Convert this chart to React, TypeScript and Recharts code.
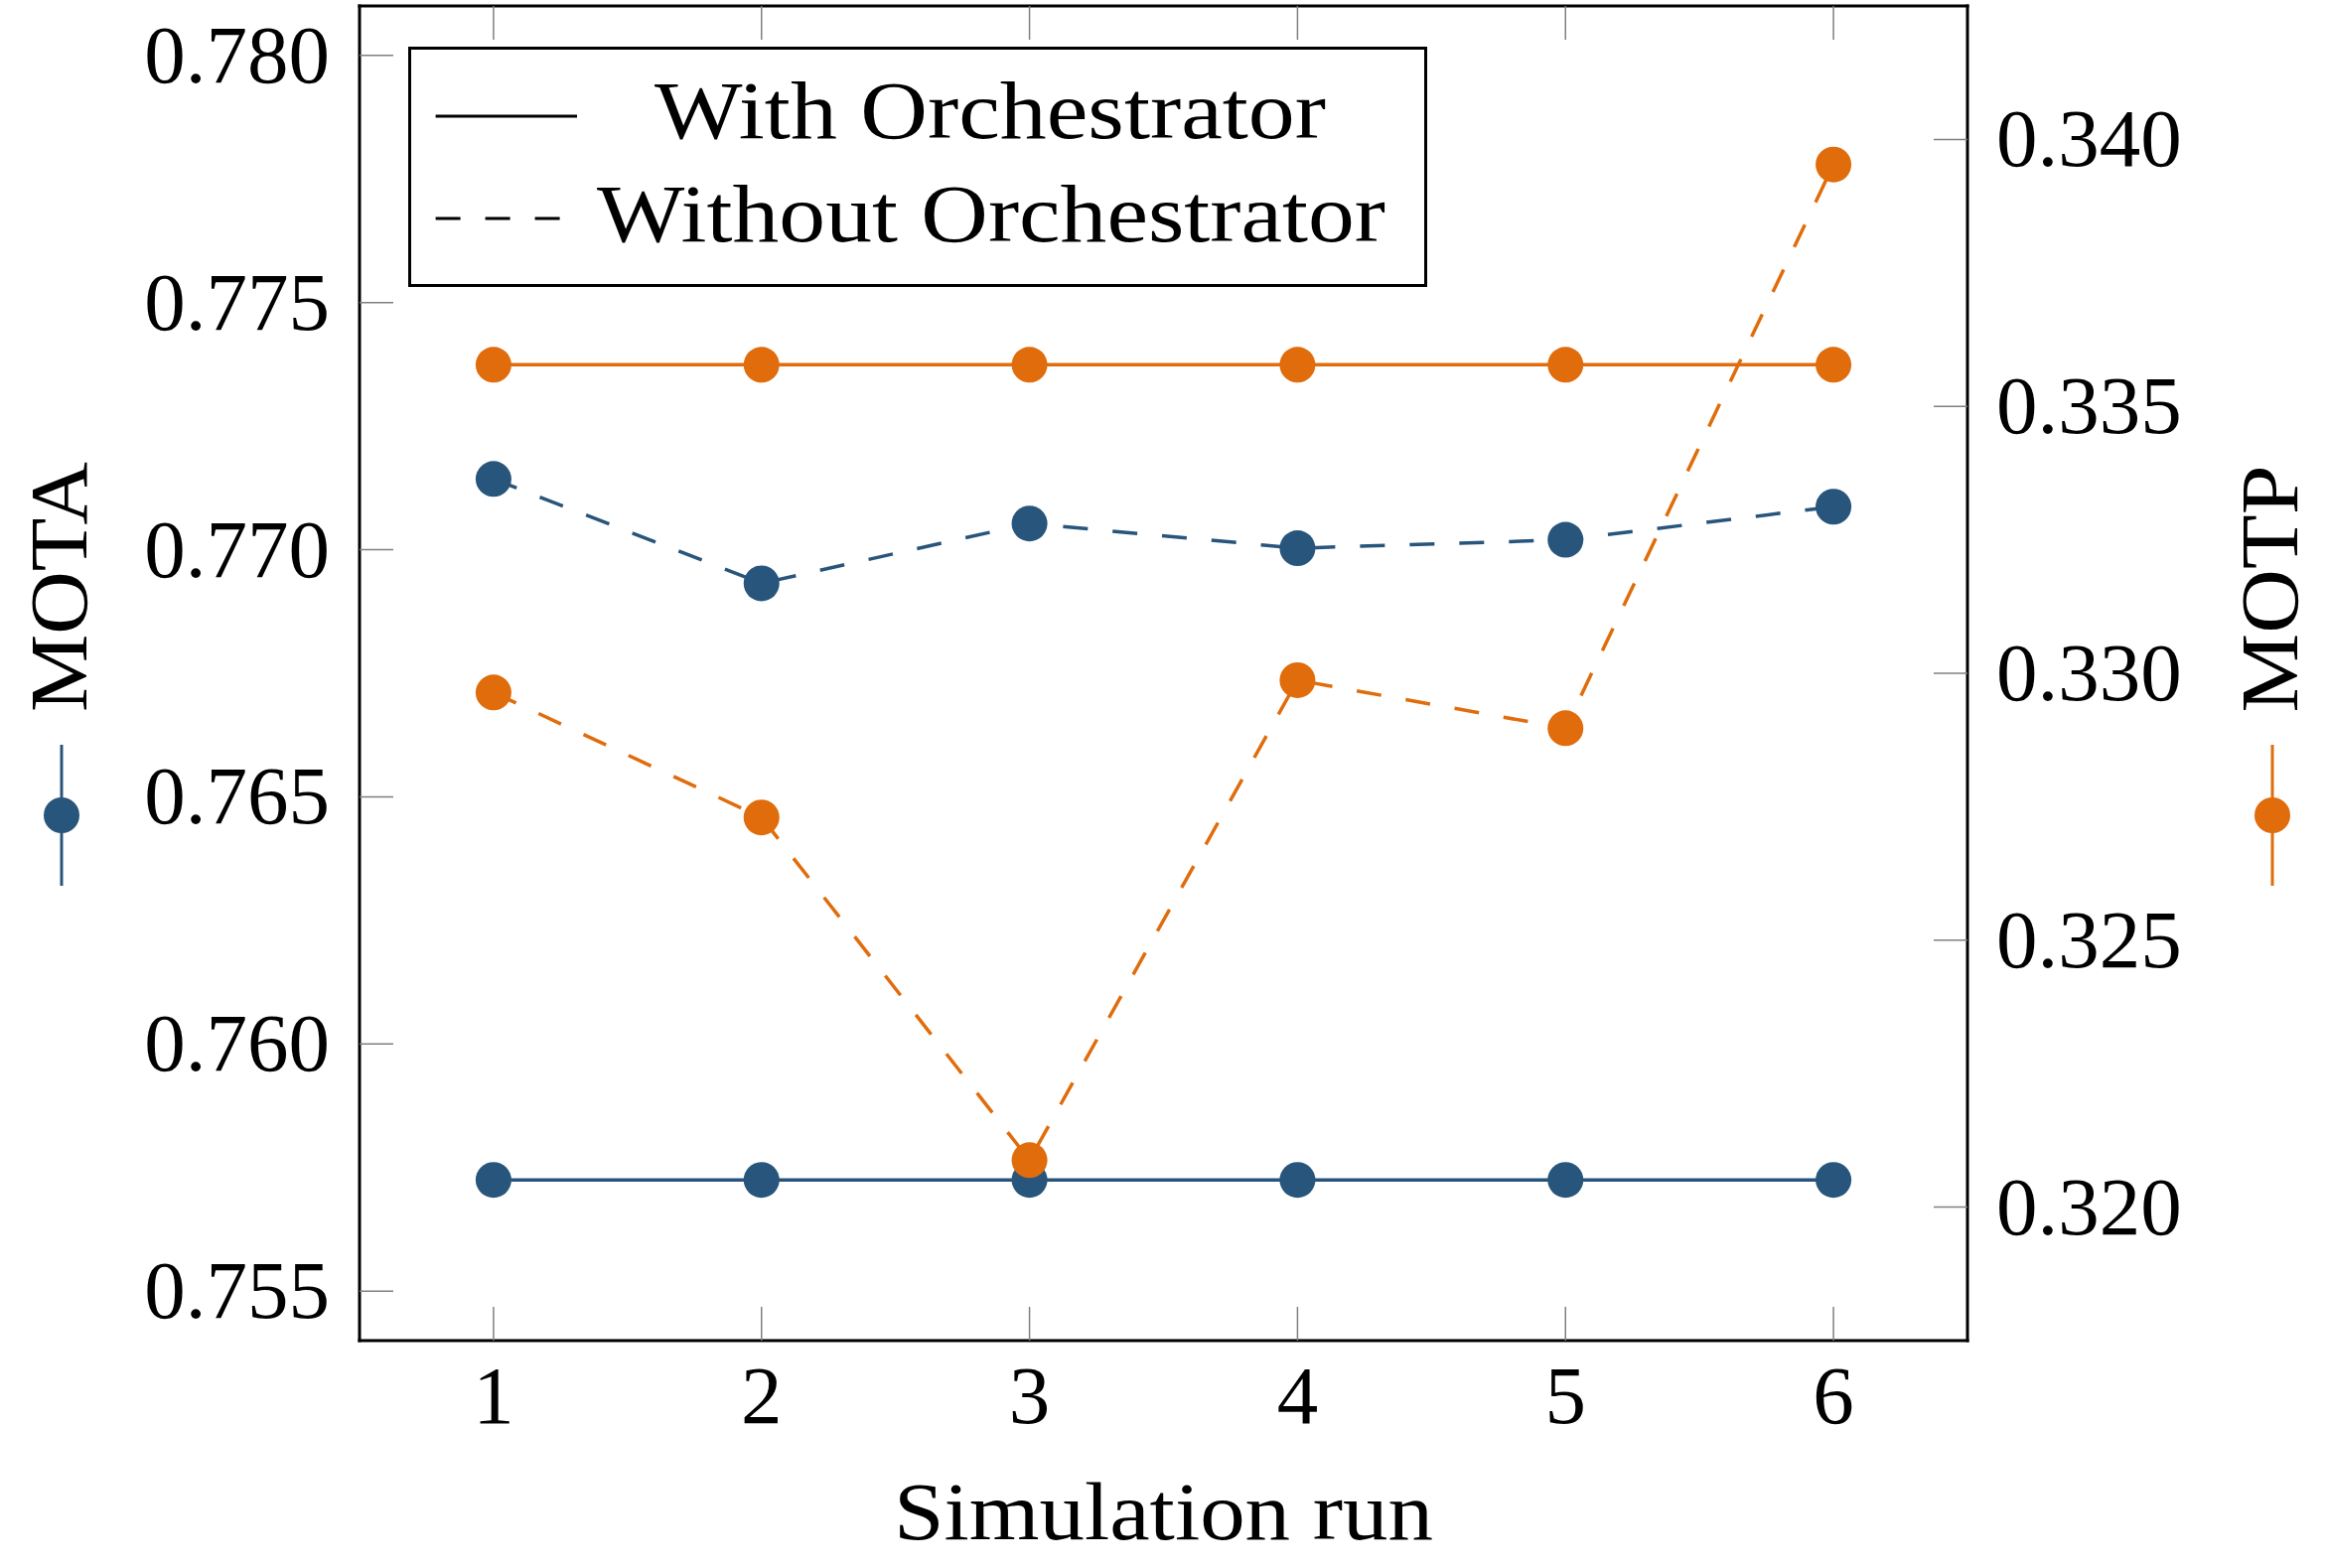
import React from 'react';
import { LineChart, Line, XAxis, YAxis, Legend } from 'recharts';

const runs = [1, 2, 3, 4, 5, 6];
const motaWith = [0.75725, 0.75725, 0.75725, 0.75725, 0.75725, 0.75725];
const motaWithout = [0.77143, 0.76932, 0.77053, 0.77003, 0.7702, 0.77087];
const motpWith = [0.33578, 0.33578, 0.33578, 0.33578, 0.33578, 0.33578];
const motpWithout = [0.32964, 0.3273, 0.32088, 0.32987, 0.32897, 0.33953];

const xTicks = [1, 2, 3, 4, 5, 6];
const motaTicks = [0.755, 0.76, 0.765, 0.77, 0.775, 0.78];
const motpTicks = [0.32, 0.325, 0.33, 0.335, 0.34];

const legendLabels = ['With Orchestrator', 'Without Orchestrator'];

const data = runs.map((r, i) => ({
  run: r,
  motaWith: motaWith[i],
  motaWithout: motaWithout[i],
  motpWith: motpWith[i],
  motpWithout: motpWithout[i],
}));

const BLUE = '#28557B';
const ORANGE = '#E06C0B';
const FONT = '"Liberation Serif", "Times New Roman", serif';
const FS = 83;
const TICK_GRAY = '#808080';
const TICK_LEN = 34;

const LeftTick = (props: any) => {
  const { x, y, payload } = props;
  return (
    <g>
      <line x1={x} y1={y} x2={x + TICK_LEN} y2={y} stroke={TICK_GRAY} strokeWidth={1.5} />
      <text x={x - 30} y={y + 27} textAnchor="end" fontFamily={FONT} fontSize={FS} fill="#000">
        {Number(payload.value).toFixed(3)}
      </text>
    </g>
  );
};

const RightTick = (props: any) => {
  const { x, y, payload } = props;
  return (
    <g>
      <line x1={x} y1={y} x2={x - TICK_LEN} y2={y} stroke={TICK_GRAY} strokeWidth={1.5} />
      <text x={x + 29} y={y + 27} textAnchor="start" fontFamily={FONT} fontSize={FS} fill="#000">
        {Number(payload.value).toFixed(3)}
      </text>
    </g>
  );
};

const BottomTick = (props: any) => {
  const { x, y, payload } = props;
  return (
    <g>
      <line x1={x} y1={y} x2={x} y2={y - TICK_LEN} stroke={TICK_GRAY} strokeWidth={1.5} />
      <text x={x} y={y + 83} textAnchor="middle" fontFamily={FONT} fontSize={FS} fill="#000">
        {payload.value}
      </text>
    </g>
  );
};

const TopTick = (props: any) => {
  const { x, y } = props;
  return <line x1={x} y1={y} x2={x} y2={y + TICK_LEN} stroke={TICK_GRAY} strokeWidth={1.5} />;
};

const LeftLabel = (props: any) => {
  const vb = props.viewBox || { x: 0, y: 6, width: 362, height: 1344 };
  const cy = vb.y + vb.height / 2;
  const tx = vb.x + 87;
  const ty = cy - 87;
  return (
    <g>
      <text
        x={tx}
        y={ty}
        textAnchor="middle"
        transform={`rotate(-90, ${tx}, ${ty})`}
        fontFamily={FONT}
        fontSize={FS}
        fill="#000"
        textLength={252}
        lengthAdjust="spacingAndGlyphs"
      >
        MOTA
      </text>
      <line x1={vb.x + 62} y1={cy + 72} x2={vb.x + 62} y2={cy + 214} stroke={BLUE} strokeWidth={3} />
      <circle cx={vb.x + 62} cy={cy + 143} r={18} fill={BLUE} />
    </g>
  );
};

const RightLabel = (props: any) => {
  const vb = props.viewBox || { x: 1981, y: 6, width: 362, height: 1344 };
  const cy = vb.y + vb.height / 2;
  const tx = vb.x + 332;
  const ty = cy - 85;
  return (
    <g>
      <text
        x={tx}
        y={ty}
        textAnchor="middle"
        transform={`rotate(-90, ${tx}, ${ty})`}
        fontFamily={FONT}
        fontSize={FS}
        fill="#000"
        textLength={249}
        lengthAdjust="spacingAndGlyphs"
      >
        MOTP
      </text>
      <line x1={vb.x + 307} y1={cy + 72} x2={vb.x + 307} y2={cy + 214} stroke={ORANGE} strokeWidth={3} />
      <circle cx={vb.x + 307} cy={cy + 143} r={18} fill={ORANGE} />
    </g>
  );
};

const BottomLabel = (props: any) => {
  const vb = props.viewBox || { x: 362, y: 1350, width: 1619, height: 229 };
  return (
    <text
      x={vb.x + vb.width / 2}
      y={vb.y + 200}
      textAnchor="middle"
      fontFamily={FONT}
      fontSize={FS}
      fill="#000"
      textLength={543}
      lengthAdjust="spacingAndGlyphs"
    >
      Simulation run
    </text>
  );
};

const LegendBox = () => (
  <svg width={1026} height={242} style={{ display: 'block' }}>
    <rect x={1.5} y={1.5} width={1023} height={239} fill="#fff" stroke="#000" strokeWidth={3} />
    <line x1={27.6} y1={70} x2={170} y2={70} stroke="#000" strokeWidth={3} />
    <text x={586} y={92} textAnchor="middle" fontFamily={FONT} fontSize={FS} fill="#000"
      textLength={676} lengthAdjust="spacingAndGlyphs">
      {legendLabels[0]}
    </text>
    <line x1={27.6} y1={173} x2={170} y2={173} stroke="#000" strokeWidth={3} strokeDasharray="25 25" />
    <text x={587} y={196} textAnchor="middle" fontFamily={FONT} fontSize={FS} fill="#000"
      textLength={794} lengthAdjust="spacingAndGlyphs">
      {legendLabels[1]}
    </text>
  </svg>
);

const frameLine = { stroke: '#000', strokeWidth: 3, strokeLinecap: 'square' as const };

export default function App() {
  return (
    <div style={{ position: 'absolute', left: 0, top: 0, background: '#fff' }}>
      <LineChart width={2343} height={1579} data={data} margin={{ top: 5, right: 0, bottom: 0, left: 0 }}>
        <XAxis
          xAxisId="bottom"
          dataKey="run"
          type="number"
          domain={[0.5, 6.5]}
          ticks={xTicks}
          allowDataOverflow
          orientation="bottom"
          height={229}
          tickSize={0}
          tickMargin={0}
          tickLine={false}
          axisLine={frameLine}
          tick={<BottomTick />}
          interval={0}
          label={<BottomLabel />}
        />
        <XAxis
          xAxisId="top"
          dataKey="run"
          type="number"
          domain={[0.5, 6.5]}
          ticks={xTicks}
          allowDataOverflow
          orientation="top"
          height={1}
          tickSize={0}
          tickMargin={0}
          tickLine={false}
          axisLine={frameLine}
          tick={<TopTick />}
          interval={0}
        />
        <YAxis
          yAxisId="left"
          orientation="left"
          type="number"
          domain={[0.754, 0.781]}
          ticks={motaTicks}
          allowDataOverflow
          width={362}
          tickSize={0}
          tickMargin={0}
          tickLine={false}
          axisLine={frameLine}
          tick={<LeftTick />}
          interval={0}
          label={<LeftLabel />}
        />
        <YAxis
          yAxisId="right"
          orientation="right"
          type="number"
          domain={[0.3175, 0.3425]}
          ticks={motpTicks}
          allowDataOverflow
          width={362}
          tickSize={0}
          tickMargin={0}
          tickLine={false}
          axisLine={frameLine}
          tick={<RightTick />}
          interval={0}
          label={<RightLabel />}
        />
        <Legend
          layout="vertical"
          align="center"
          verticalAlign="middle"
          wrapperStyle={{ position: 'absolute', left: 411, top: 47, width: 1026, height: 242 }}
          content={() => <LegendBox />}
        />
        <Line
          xAxisId="bottom"
          yAxisId="left"
          dataKey="motaWith"
          stroke={BLUE}
          strokeWidth={3.5}
          dot={{ r: 18, fill: BLUE, stroke: 'none' }}
          activeDot={false}
          isAnimationActive={false}
        />
        <Line
          xAxisId="bottom"
          yAxisId="left"
          dataKey="motaWithout"
          stroke={BLUE}
          strokeWidth={3.5}
          strokeDasharray="25 25"
          dot={{ r: 18, fill: BLUE, stroke: 'none', strokeDasharray: '' }}
          activeDot={false}
          isAnimationActive={false}
        />
        <Line
          xAxisId="bottom"
          yAxisId="right"
          dataKey="motpWith"
          stroke={ORANGE}
          strokeWidth={3.5}
          dot={{ r: 18, fill: ORANGE, stroke: 'none' }}
          activeDot={false}
          isAnimationActive={false}
        />
        <Line
          xAxisId="bottom"
          yAxisId="right"
          dataKey="motpWithout"
          stroke={ORANGE}
          strokeWidth={3.5}
          strokeDasharray="25 25"
          dot={{ r: 18, fill: ORANGE, stroke: 'none', strokeDasharray: '' }}
          activeDot={false}
          isAnimationActive={false}
        />
      </LineChart>
    </div>
  );
}
